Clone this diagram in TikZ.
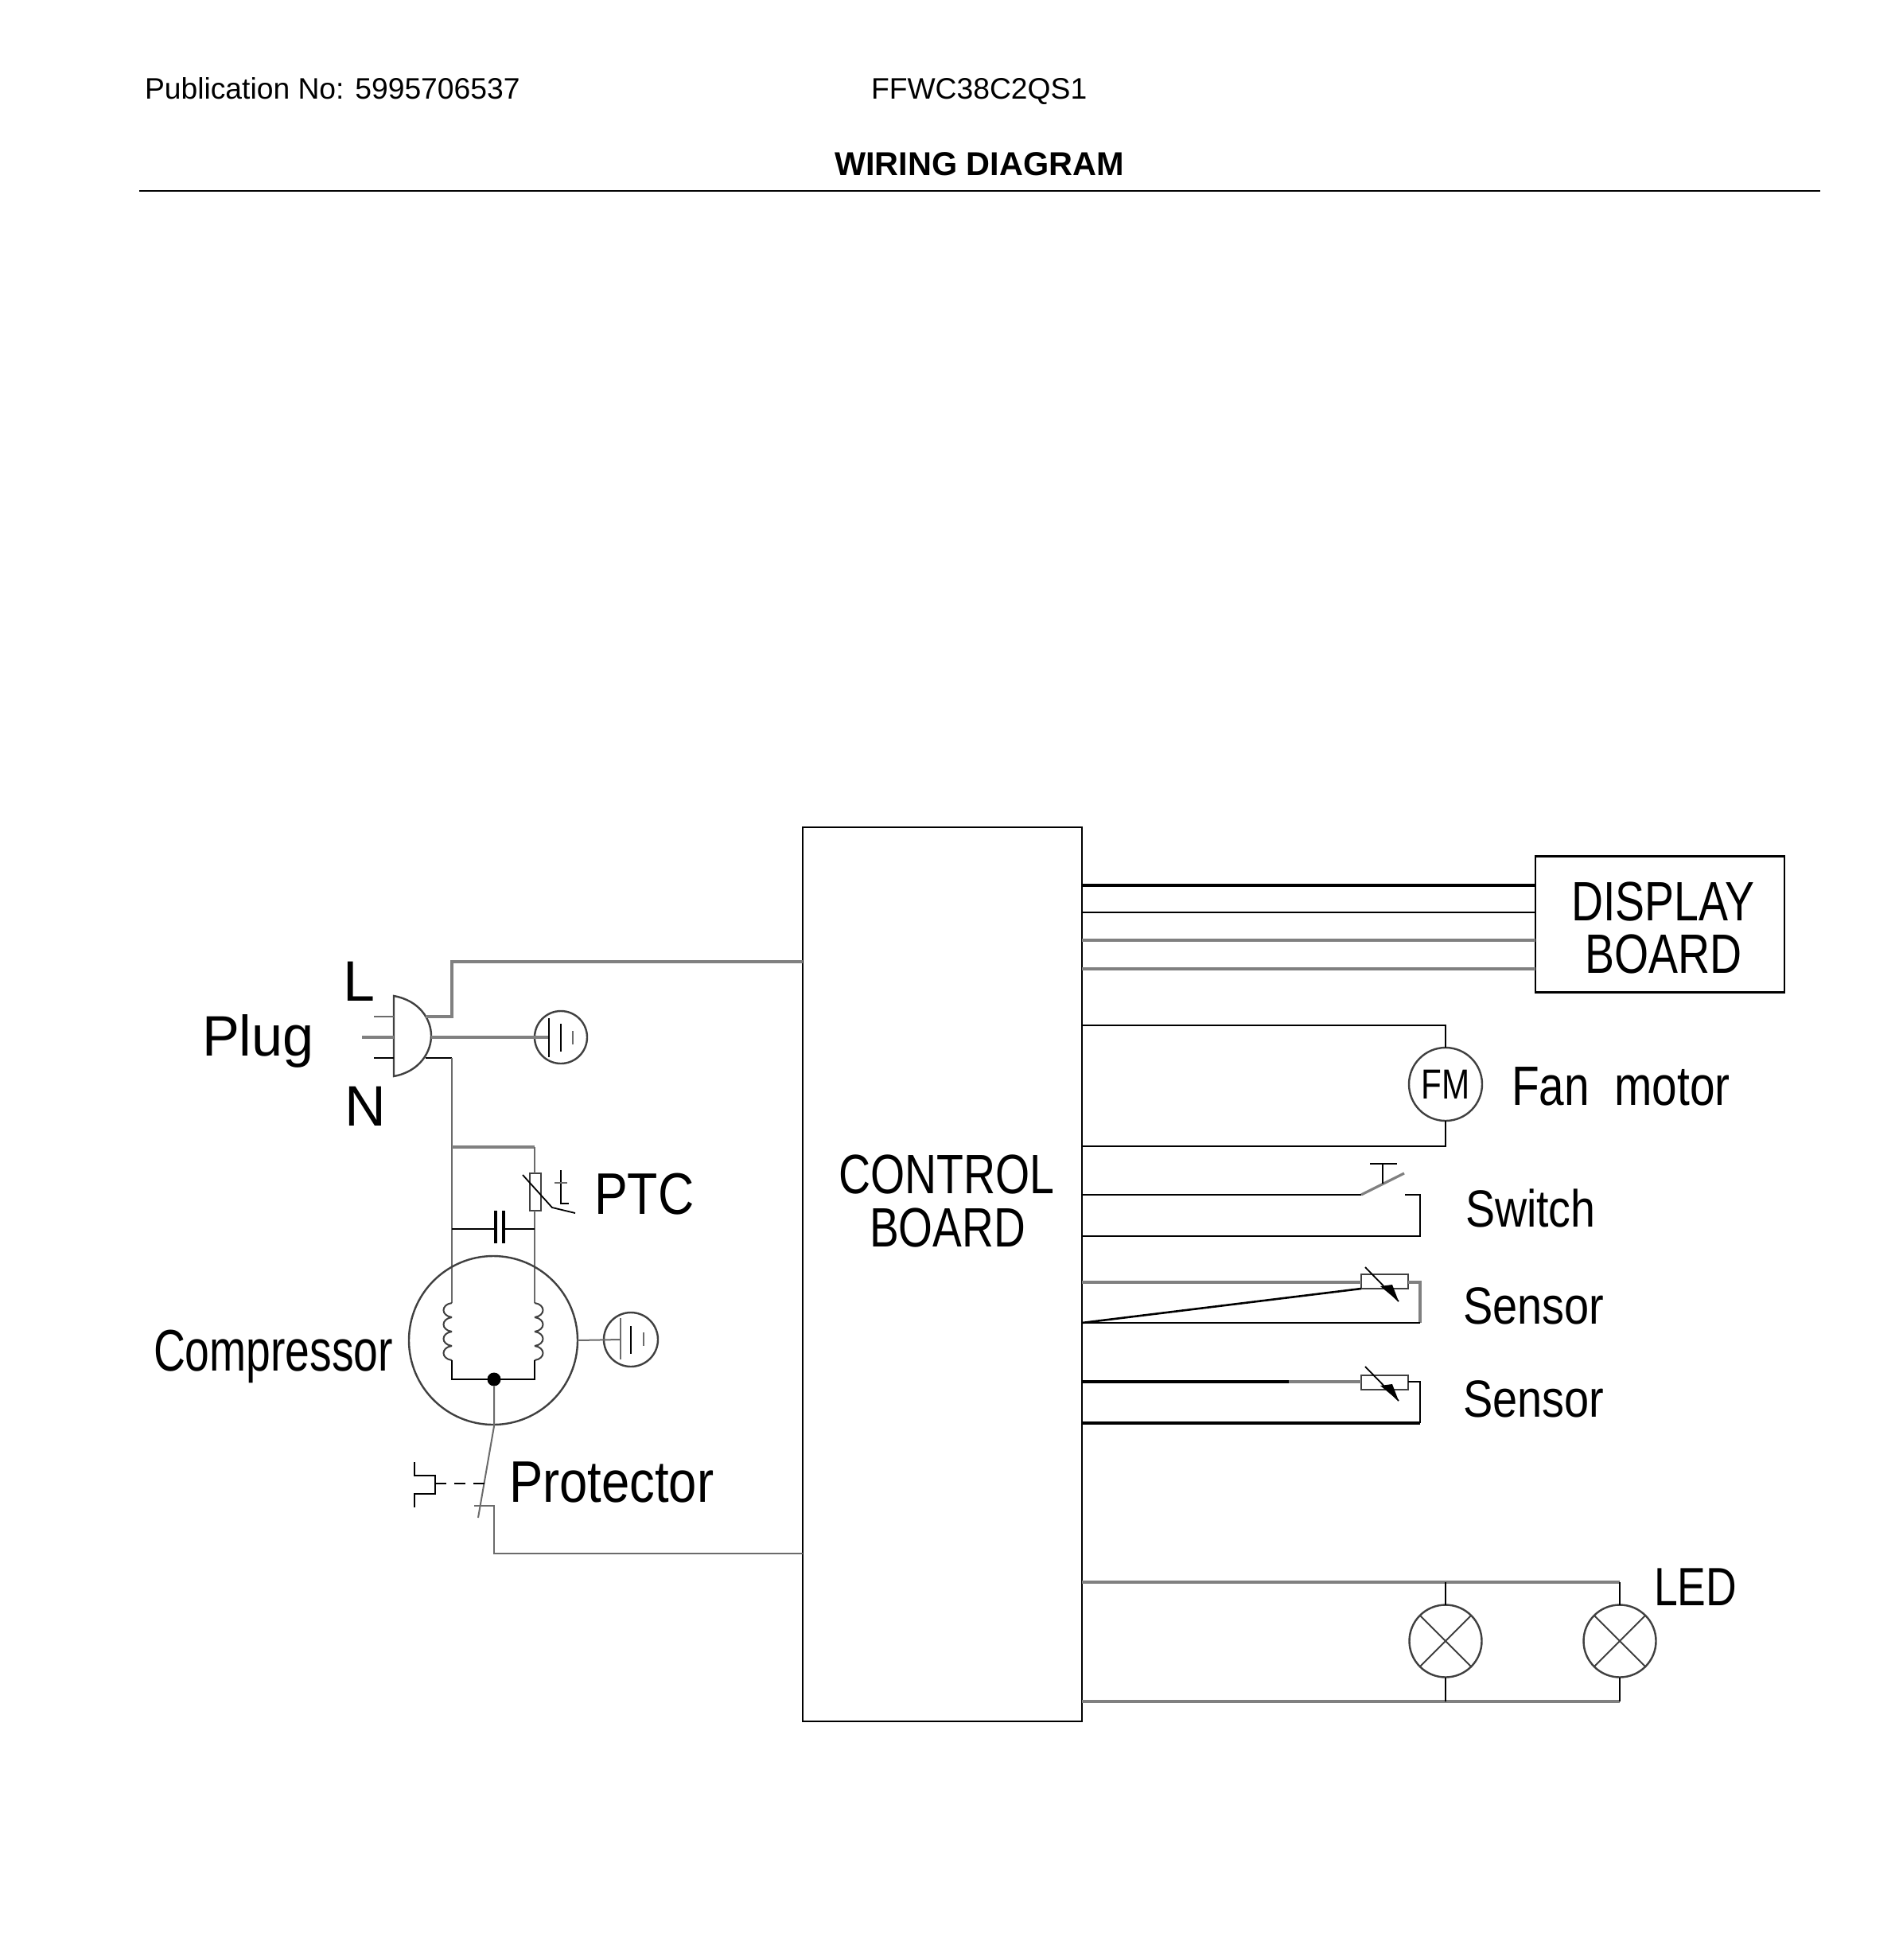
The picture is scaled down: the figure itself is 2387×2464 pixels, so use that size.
\documentclass[tikz,border=0pt]{standalone}
\usepackage{graphicx}
\usepackage{fontspec}
\setmainfont{Liberation Sans}
\newcommand{\tx}[3]{\fontsize{#1}{#1}\selectfont\scalebox{#2}[1]{#3}}
\tikzset{
  wire/.style={draw=black,line width=2.6bp,line join=miter},
  gwire/.style={draw=black!50,line width=3.2bp,line join=miter},
  thin wire/.style={draw=black,line width=1.8bp},
  gthin/.style={draw=black!58,line width=2bp},
  sym/.style={draw=black!75,line width=2bp,fill=none},
  lab/.style={anchor=base west,inner sep=0pt,outer sep=0pt,text=black},
  boxn/.style={draw=black,line width=2.2bp,inner sep=0pt,outer sep=0pt,rectangle},
  ring/.style={draw=black!75,line width=2.4bp,circle,inner sep=0pt,outer sep=0pt},
}
\begin{document}
\begin{tikzpicture}[x=1bp,y=-1bp]
\useasboundingbox (0,0) rectangle (2387,2464);
\fill[white] (0,0) rectangle (2387,2464);

% header
\node[lab] (pub) at (182,125) {\tx{37.4}{1}{Publication No: 5995706537}};
\node[lab] (model) at (1095,125) {\tx{37.4}{1}{FFWC38C2QS1}};
\node[lab,font=\bfseries] (title) at (1049,220) {\tx{41.6}{1}{WIRING DIAGRAM}};
\coordinate (ruleL) at (175,240);
\coordinate (ruleR) at (2288,240);
\draw[black,line width=2.2bp] (ruleL) -- (ruleR);

% boxes
\node[boxn,minimum width=351bp,minimum height=1124bp] (board) at (1184.5,1602) {};
\node[boxn,minimum width=313bp,minimum height=171bp] (disp) at (2086.5,1162) {};
\node[lab] (ctl1) at (1054,1500) {\tx{70}{.795}{CONTROL}};
\node[lab] (ctl2) at (1093,1567) {\tx{70}{.79}{BOARD}};
\node[lab] (dsp1) at (1975,1157) {\tx{70}{.795}{DISPLAY}};
\node[lab] (dsp2) at (1992,1223) {\tx{70}{.795}{BOARD}};

% display wires
\draw[wire,line width=3.4bp] (board.east |- 0,1113) -- (disp.west |- 0,1113);
\draw[wire,line width=2.4bp] (board.east |- 0,1147) -- (disp.west |- 0,1147);
\draw[gwire] (board.east |- 0,1182) -- (disp.west |- 0,1182);
\draw[gwire] (board.east |- 0,1218) -- (disp.west |- 0,1218);

% fan
\node[ring,minimum size=92bp] (fm) at (1817,1363) {};
\node[inner sep=0pt] (fmt) at (1817,1363) {\tx{53}{.8}{FM}};
\node[lab] (fant) at (1900,1389) {\tx{70}{.815}{Fan\ \ motor}};
\draw[wire] (board.east |- 0,1289) -| (fm.north);
\draw[wire] (board.east |- 0,1441) -| (fm.south);

% switch
\coordinate (swA) at (1711,1502);
\coordinate (swB) at (1765,1475);
\coordinate (swC) at (1766,1502);
\coordinate (swD) at (1785,1554);
\coordinate (swP) at (1738,1488);
\coordinate (swQ) at (1738,1463);
\draw[wire] (board.east |- swA) -- (swA);
\draw[gwire] (swA) -- (swB);
\draw[wire] (swC) -| (swD) -- (board.east |- swD);
\draw[thin wire] (swP) -- (swQ);
\draw[thin wire] (1722,1463) -- (1756,1463);
\node[lab] (swt) at (1842,1542) {\tx{66}{.845}{Switch}};

% sensor 1
\node[sym,rectangle,inner sep=0pt,outer sep=0pt,minimum width=59bp,minimum height=18bp] (r1) at (1740.5,1611) {};
\coordinate (s1R) at (1785,1612);
\coordinate (s1B) at (1785,1663);
\draw[gwire] (board.east |- 0,1612) -- (r1.west |- 0,1612);
\draw[gwire] (r1.east |- s1R) -- (s1R) -- (s1B);
\draw[wire] (s1B) -- (board.east |- s1B);
\draw[wire] (board.east |- s1B) -- (r1.south west);
\draw[thin wire] (1716,1593) -- (1758,1636);
\fill[black] (1735,1617) -- (1750,1615) -- (1758,1636) -- cycle;
\node[lab] (s1t) at (1839,1664) {\tx{66}{.85}{Sensor}};

% sensor 2
\node[sym,rectangle,inner sep=0pt,outer sep=0pt,minimum width=59bp,minimum height=18bp] (r2) at (1740.5,1738) {};
\coordinate (s2R) at (1785,1737);
\coordinate (s2B) at (1785,1789);
\draw[wire,line width=3.4bp] (board.east |- s2R) -- (1620,1737);
\draw[gwire] (1620,1737) -- (r2.west |- s2R);
\draw[wire] (r2.east |- s2R) -- (s2R) -- (s2B);
\draw[wire,line width=3.4bp] (s2B) -- (board.east |- s2B);
\draw[thin wire] (1716,1718) -- (1758,1761);
\fill[black] (1735,1742) -- (1750,1740) -- (1758,1761) -- cycle;
\node[lab] (s2t) at (1839,1781) {\tx{66}{.85}{Sensor}};

% LEDs
\node[ring,minimum size=91bp] (l1) at (1817,2063) {};
\node[ring,minimum size=91bp] (l2) at (2036,2063) {};
\draw[sym] (l1.45) -- (l1.225) (l1.135) -- (l1.315);
\draw[sym] (l2.45) -- (l2.225) (l2.135) -- (l2.315);
\draw[gwire] (board.east |- 0,1989) -- (l2.north |- 0,1989);
\draw[gwire] (board.east |- 0,2139) -- (l2.south |- 0,2139);
\draw[thin wire] (l2.north |- 0,1989) -- (l2.north);
\draw[thin wire] (l2.south) -- (l2.south |- 0,2139);
\draw[thin wire] (l1.north |- 0,1989) -- (l1.north);
\draw[thin wire] (l1.south) -- (l1.south |- 0,2139);
\node[lab] (ledt) at (2079,2018) {\tx{68}{.79}{LED}};

% plug
\node[lab] (plugt) at (254,1327) {\tx{72}{.98}{Plug}};
\node[lab] (lt) at (431,1258) {\tx{72}{1}{L}};
\node[lab] (nt) at (433,1415) {\tx{72}{1}{N}};
\coordinate (plugE) at (542,1304);
\draw[sym,line width=2.4bp] (495,1252) .. controls (528,1258) and (542,1282) .. (542,1302) .. controls (542,1322) and (528,1347) .. (495,1353) -- cycle;
\draw[gthin] (470,1278) -- (495,1278);
\draw[gwire] (455,1304) -- (495,1304);
\draw[wire] (470,1330) -- (495,1330);
\coordinate (lA) at (535,1278);
\coordinate (lB) at (568,1209);
\coordinate (nA) at (535,1330);
\coordinate (nB) at (568,1330);
\draw[gwire] (lA) -| (lB) -- (board.west |- lB);
\draw[wire] (nA) -- (nB);

% earth 1
\node[ring,minimum size=66bp] (e1) at (705,1304) {};
\draw[gwire] (plugE) -- (690,1304);
\draw[thin wire] (690,1280) -- (690,1329);
\draw[thin wire] (705,1287) -- (705,1322);
\draw[gthin] (720,1296) -- (720,1313);

% main vertical and PTC branch
\coordinate (ptcT) at (672,1442);
\coordinate (capL) at (568,1545);
\coordinate (capR) at (672,1545);
\coordinate (cL) at (568,1638);
\coordinate (cR) at (672,1638);
\draw[gthin] (nB) -- (cL);
\draw[gwire] (568,1442) -- (ptcT);
\node[sym,rectangle,inner sep=0pt,outer sep=0pt,minimum width=14bp,minimum height=47bp] (ptc) at (673,1498.5) {};
\draw[gthin] (ptcT) -- (ptc.north -| ptcT);
\draw[gthin] (ptc.south -| ptcT) -- (cR);
\draw[thin wire] (657,1477) -- (694,1518) -- (723,1525);
\draw[thin wire] (705,1471) -- (705,1513) -- (715,1513);
\draw[gthin] (697,1487) -- (713,1487);
\draw[wire] (capL) -- (623,1545);
\draw[wire] (633,1545) -- (capR);
\draw[black,line width=3.6bp] (623,1522) -- (623,1563) (633,1522) -- (633,1563);
\node[lab] (ptct) at (747,1526) {\tx{74}{.85}{PTC}};

% compressor
\node[ring,minimum size=212bp] (comp) at (620,1685) {};
\node[lab] (compt) at (193,1723) {\tx{74}{.75}{Compressor}};
\foreach \yy in {1638,1656,1674,1692}{
  \draw[sym] (568,\yy) .. controls (554,\yy+2) and (554,\yy+16) .. (568,\yy+18);
  \draw[sym] (672,\yy) .. controls (686,\yy+2) and (686,\yy+16) .. (672,\yy+18);
}
\coordinate (jc) at (621,1734);
\draw[wire] (568,1710) -- (568,1734) -- (672,1734) -- (672,1710);
\node[circle,fill=black,inner sep=0pt,minimum size=17bp] (dot) at (jc) {};

% earth 2
\node[ring,minimum size=68bp] (e2) at (793,1684) {};
\draw[gthin] (comp.east) -- (780,1684);
\draw[gthin] (780,1657) -- (780,1709);
\draw[thin wire] (793,1667) -- (793,1702);
\draw[gthin] (809,1675) -- (809,1692);

% protector
\coordinate (pA) at (621,1793);
\coordinate (pB) at (601,1908);
\coordinate (pC) at (621,1893);
\coordinate (pD) at (621,1953);
\draw[gthin] (dot) -- (pA) -- (pB);
\draw[gthin] (596,1893) -- (pC) -- (pD) -- (board.west |- pD);
\draw[thin wire,dash pattern=on 14bp off 10bp] (547,1865) -- (611,1865);
\draw[thin wire] (521,1838) -- (521,1855) -- (547,1855) -- (547,1878) -- (521,1878) -- (521,1895);
\node[lab] (prot) at (640,1888) {\tx{74}{.86}{Protector}};
\end{tikzpicture}
\end{document}
